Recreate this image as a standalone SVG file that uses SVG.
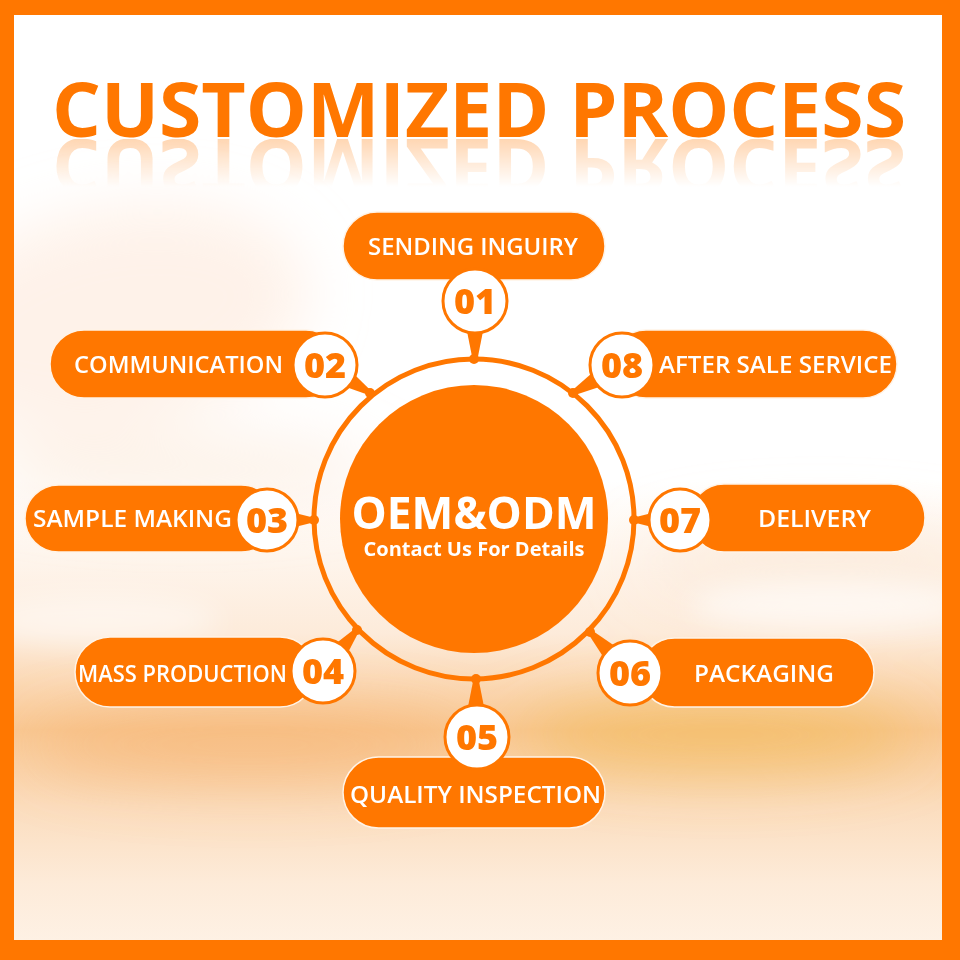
<svg xmlns="http://www.w3.org/2000/svg" width="960" height="960" viewBox="0 0 960 960">
<defs>
<style>
.pill{fill:#FF7700;stroke:#FFF3E6;stroke-width:1.5}
.num{fill:#FFFFFF;stroke:#FF7700;stroke-width:3}
.numt{font-family:"Open Sans","Liberation Sans",sans-serif;font-weight:800;font-size:36px;fill:#FF7700;text-anchor:middle}
.lbl{font-family:"Open Sans","Liberation Sans",sans-serif;font-weight:600;font-size:23px;fill:#FFFFFF;text-anchor:middle}
.wedge{fill:#FF7700}
.dot{fill:#FF7700}
</style>
<linearGradient id="bg" x1="0" y1="0" x2="0" y2="1">
<stop offset="0" stop-color="#FFFFFF"/>
<stop offset="0.5" stop-color="#FFFFFF"/>
<stop offset="0.66" stop-color="#FDEBDA"/>
<stop offset="0.76" stop-color="#F9C893"/>
<stop offset="0.84" stop-color="#FBDDBE"/>
<stop offset="0.92" stop-color="#FDEBD9"/>
<stop offset="1" stop-color="#FEF3E8"/>
</linearGradient>
<linearGradient id="fade" x1="0" y1="0" x2="0" y2="1">
<stop offset="0" stop-color="#FFFFFF" stop-opacity="0.3"/>
<stop offset="1" stop-color="#FFFFFF" stop-opacity="0"/>
</linearGradient>
<mask id="refl" maskUnits="userSpaceOnUse" x="0" y="130" width="960" height="80">
<rect x="0" y="139" width="960" height="48" fill="url(#fade)"/>
</mask>
<filter id="blur" x="-50%" y="-50%" width="200%" height="200%">
<feGaussianBlur stdDeviation="30"/>
</filter>
<filter id="blur2" x="-50%" y="-50%" width="200%" height="200%">
<feGaussianBlur stdDeviation="14"/>
</filter>
</defs>

<!-- background -->
<rect x="0" y="0" width="960" height="960" fill="url(#bg)"/>
<g filter="url(#blur)">
<ellipse cx="110" cy="320" rx="200" ry="110" fill="#FDEADB" opacity="0.6" transform="rotate(-12 110 320)"/>
<ellipse cx="180" cy="470" rx="200" ry="35" fill="#FCE8D6" opacity="0.55"/>
<ellipse cx="820" cy="560" rx="180" ry="35" fill="#FCE6D2" opacity="0.6"/>
<ellipse cx="720" cy="735" rx="200" ry="35" fill="#F0B850" opacity="0.6"/>
<ellipse cx="250" cy="745" rx="220" ry="35" fill="#F6AE6A" opacity="0.5"/>
</g>
<g filter="url(#blur2)">
<ellipse cx="830" cy="605" rx="140" ry="25" fill="#FFFFFF" opacity="0.6"/>
<ellipse cx="100" cy="620" rx="120" ry="25" fill="#FFFFFF" opacity="0.45"/>
</g>

<!-- frame -->
<path d="M0 0H960V960H0Z M14 15V940H942V15Z" fill="#FF7700" fill-rule="evenodd"/>

<!-- title -->
<g id="title">
<text x="52" y="137" font-family="Open Sans, Liberation Sans, sans-serif" font-weight="700" font-size="76" fill="#FF7700" textLength="854" lengthAdjust="spacingAndGlyphs">CUSTOMIZED PROCESS</text>
<g mask="url(#refl)">
<text x="52" y="-139" transform="scale(1,-1)" font-family="Open Sans, Liberation Sans, sans-serif" font-weight="700" font-size="76" fill="#FF7700" textLength="854" lengthAdjust="spacingAndGlyphs">CUSTOMIZED PROCESS</text>
</g>
</g>

<!-- center -->
<g id="center">
<circle cx="474" cy="519" r="160" fill="none" stroke="#FF7700" stroke-width="5"/>
<circle cx="474" cy="519" r="134" fill="#FF7700"/>
<text x="474" y="529" font-family="Open Sans, Liberation Sans, sans-serif" font-weight="700" font-size="44" fill="#FFFFFF" text-anchor="middle" textLength="245" lengthAdjust="spacingAndGlyphs">OEM&amp;ODM</text>
<text x="474" y="556" font-family="Open Sans, Liberation Sans, sans-serif" font-weight="700" font-size="19" fill="#FFFFFF" text-anchor="middle" textLength="221" lengthAdjust="spacingAndGlyphs">Contact Us For Details</text>
</g>

<!-- pills -->
<g id="n01-pill"><rect class="pill" x="343" y="212" width="262" height="68" rx="34"/><text class="lbl" x="473" y="255" textLength="210" lengthAdjust="spacingAndGlyphs">SENDING INGUIRY</text></g>
<g id="n02-pill"><rect class="pill" x="50" y="330" width="290" height="68" rx="34"/><text class="lbl" x="178.5" y="373" textLength="209" lengthAdjust="spacingAndGlyphs">COMMUNICATION</text></g>
<g id="n03-pill"><rect class="pill" x="25" y="485" width="250" height="67" rx="33.5"/><text class="lbl" x="132.5" y="527" textLength="199" lengthAdjust="spacingAndGlyphs">SAMPLE MAKING</text></g>
<g id="n04-pill"><rect class="pill" x="75" y="637" width="240" height="70" rx="35"/><text class="lbl" x="182.5" y="682" font-size="25" textLength="209" lengthAdjust="spacingAndGlyphs">MASS PRODUCTION</text></g>
<g id="n05-pill"><rect class="pill" x="343" y="757" width="262" height="71" rx="35.5"/><text class="lbl" x="475.5" y="803" font-size="25" textLength="251" lengthAdjust="spacingAndGlyphs">QUALITY INSPECTION</text></g>
<g id="n06-pill"><rect class="pill" x="640" y="638" width="234" height="69" rx="34.5"/><text class="lbl" x="764" y="682" font-size="25" textLength="140" lengthAdjust="spacingAndGlyphs">PACKAGING</text></g>
<g id="n07-pill"><rect class="pill" x="690" y="484" width="235" height="68" rx="34"/><text class="lbl" x="814.5" y="527" textLength="113" lengthAdjust="spacingAndGlyphs">DELIVERY</text></g>
<g id="n08-pill"><rect class="pill" x="612" y="330" width="285" height="68" rx="34"/><text class="lbl" x="775.5" y="373" textLength="233" lengthAdjust="spacingAndGlyphs">AFTER SALE SERVICE</text></g>

<!-- connectors -->
<g id="connectors">
<polygon class="wedge" points="477.5,359 472.5,359 461,301 489,301"/>
<polygon class="wedge" points="368.7,395.1 371.3,390.9 332.4,353.1 317.6,376.9"/>
<polygon class="wedge" points="574.2,395.2 571.8,390.8 615.1,352.8 628.9,377.2"/>
<polygon class="wedge" points="313,522.5 313,517.5 267,506 267,534"/>
<polygon class="wedge" points="634,522.5 634,517.5 680,506 680,534"/>
<polygon class="wedge" points="358.9,631.6 355.1,628.4 312.2,662.1 333.8,679.9"/>
<polygon class="wedge" points="591.8,630.3 588.2,633.7 620,682.8 640,663.2"/>
<polygon class="wedge" points="478.5,679 473.5,679 462,737 490,737"/>
<circle class="dot" cx="474" cy="359" r="5"/>
<circle class="dot" cx="370" cy="393" r="5"/>
<circle class="dot" cx="573" cy="393" r="5"/>
<circle class="dot" cx="314" cy="520" r="5"/>
<circle class="dot" cx="634" cy="520" r="5"/>
<circle class="dot" cx="357" cy="630" r="5"/>
<circle class="dot" cx="590" cy="632" r="5"/>
<circle class="dot" cx="476" cy="679" r="5"/>
</g>

<!-- numbered circles -->
<g id="n01"><circle class="num" cx="475" cy="301" r="32"/><text class="numt" x="475" y="314">01</text></g>
<g id="n02"><circle class="num" cx="325" cy="365" r="32"/><text class="numt" x="325" y="378">02</text></g>
<g id="n03"><circle class="num" cx="267" cy="520" r="31"/><text class="numt" x="267" y="533">03</text></g>
<g id="n04"><circle class="num" cx="323" cy="671" r="32"/><text class="numt" x="323" y="684">04</text></g>
<g id="n05"><circle class="num" cx="477" cy="737" r="32"/><text class="numt" x="477" y="750">05</text></g>
<g id="n06"><circle class="num" cx="630" cy="673" r="32"/><text class="numt" x="630" y="686">06</text></g>
<g id="n07"><circle class="num" cx="680" cy="520" r="31"/><text class="numt" x="680" y="533">07</text></g>
<g id="n08"><circle class="num" cx="622" cy="365" r="32"/><text class="numt" x="622" y="378">08</text></g>
</svg>
